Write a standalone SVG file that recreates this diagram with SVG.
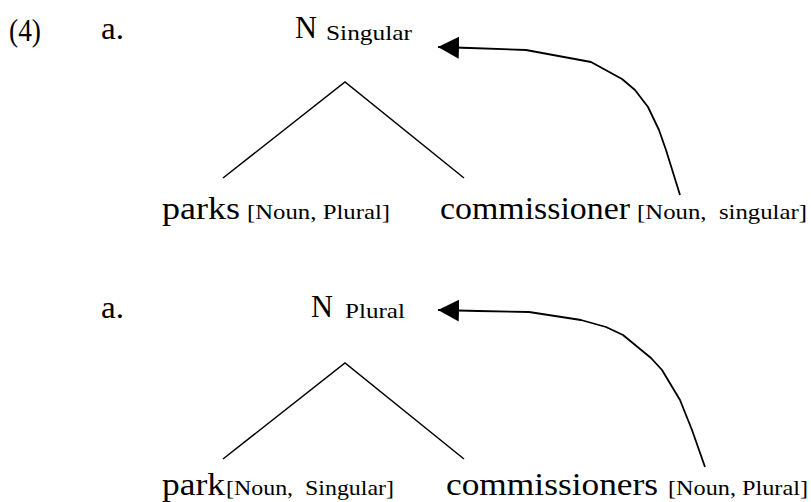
<svg xmlns="http://www.w3.org/2000/svg" width="811" height="502" viewBox="0 0 811 502">
<style>
text{font-family:"Liberation Serif","Times New Roman",serif;fill:#000}
.big{font-size:32px}
.sm{font-size:22px}
.ln{stroke:#000;stroke-width:1.5;fill:none}
.cv{stroke:#000;stroke-width:1.8;fill:none;stroke-linejoin:round}
</style>
<defs>
<marker id="ah" markerWidth="24" markerHeight="24" refX="21" refY="11" orient="auto" markerUnits="userSpaceOnUse">
<path d="M0,0 L21,11 L0,22 Z" fill="#000"/>
</marker>
</defs>
<rect width="811" height="502" fill="#fff"/>
<text class="big" x="9" y="41" textLength="32" lengthAdjust="spacingAndGlyphs">(4)</text>
<g id="ex1">
<text class="big" x="101" y="39" textLength="23" lengthAdjust="spacingAndGlyphs">a.</text>
<g id="n1"><text class="big" x="295" y="38" textLength="22" lengthAdjust="spacingAndGlyphs">N</text><text class="sm" x="326" y="40" textLength="86" lengthAdjust="spacingAndGlyphs">Singular</text></g>
<g id="parks"><text class="big" x="162" y="219" textLength="78" lengthAdjust="spacingAndGlyphs">parks</text><text class="sm" x="247" y="219" textLength="143" lengthAdjust="spacingAndGlyphs">[Noun, Plural]</text></g>
<g id="commissioner"><text class="big" x="440" y="219" textLength="190" lengthAdjust="spacingAndGlyphs">commissioner</text><text class="sm" x="637" y="219" textLength="170" lengthAdjust="spacingAndGlyphs" xml:space="preserve">[Noun,  singular]</text></g>
</g>
<g id="ex2">
<text class="big" x="101" y="318" textLength="23" lengthAdjust="spacingAndGlyphs">a.</text>
<g id="n2"><text class="big" x="311" y="317" textLength="22" lengthAdjust="spacingAndGlyphs">N</text><text class="sm" x="345" y="318" textLength="60" lengthAdjust="spacingAndGlyphs">Plural</text></g>
<g id="park"><text class="big" x="162" y="495" textLength="63" lengthAdjust="spacingAndGlyphs">park</text><text class="sm" x="226" y="495" textLength="168" lengthAdjust="spacingAndGlyphs" xml:space="preserve">[Noun,  Singular]</text></g>
<g id="commissioners"><text class="big" x="446" y="495" textLength="212" lengthAdjust="spacingAndGlyphs">commissioners</text><text class="sm" x="668" y="495" textLength="140" lengthAdjust="spacingAndGlyphs">[Noun, Plural]</text></g>
</g>
<g id="connectors">
<path class="ln" d="M223,178 L345,82 L464,178"/>
<path class="ln" d="M223,459 L345,363 L464,459"/>
<path class="cv" marker-end="url(#ah)" d="M680,195 L666,150 L659,130 L648,107 L635,90 L622,79 L591,62 L526,50 L470,48 L438,47"/>
<path class="cv" marker-end="url(#ah)" d="M705,467 L692,430 L680,400 L662,370 L651,358 L623,335 L606,327 L581,320 L529,312 L478,311 L438,310"/>
</g>
</svg>
